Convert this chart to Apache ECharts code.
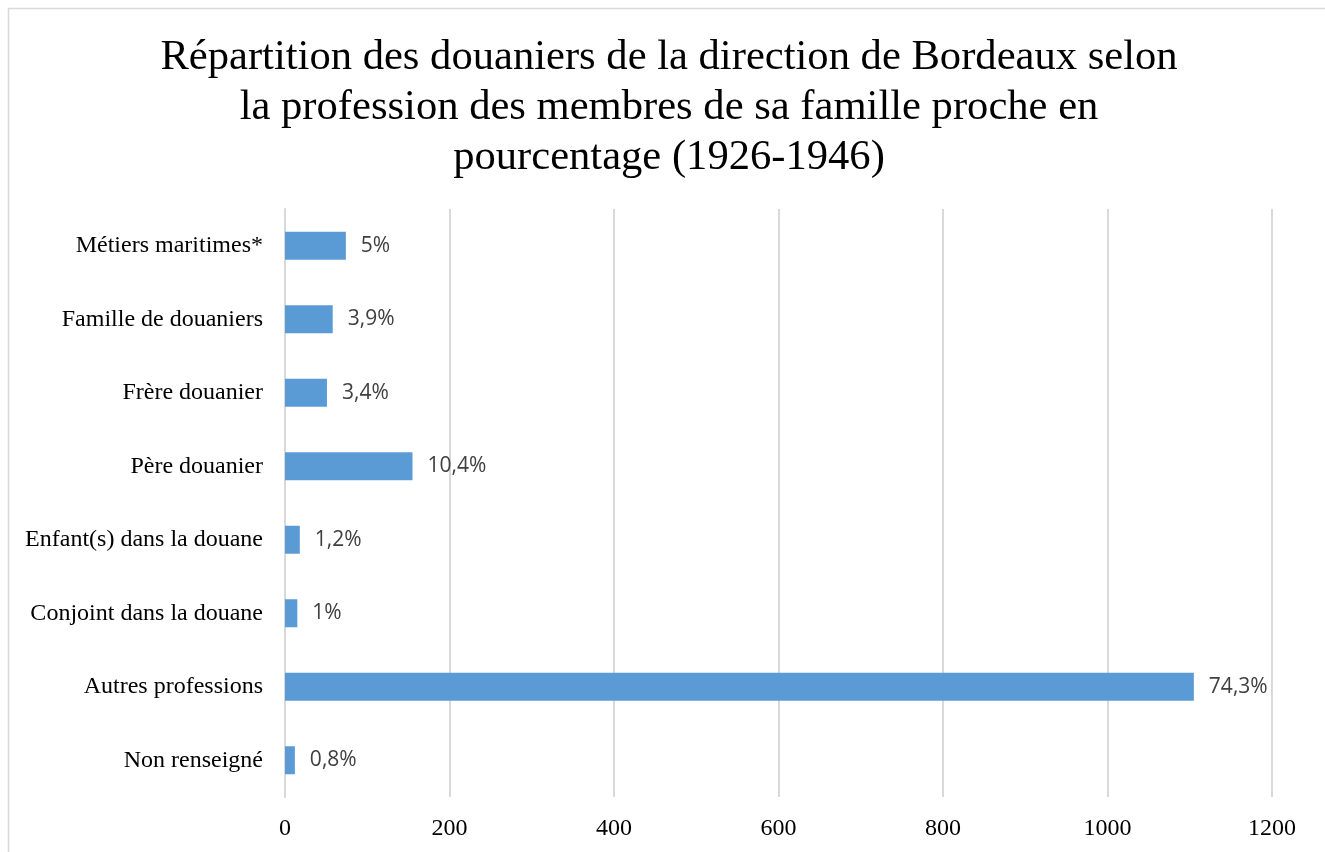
<!DOCTYPE html>
<html>
<head>
<meta charset="utf-8">
<script src="https://cdn.jsdelivr.net/npm/echarts@6/dist/echarts.min.js"></script>
<style>
  html, body { margin: 0; padding: 0; background: #fff; }
  #chart { width: 1325px; height: 852px; }
</style>
</head>
<body>
<div id="chart"></div>
<script>
// categories, top to bottom as in the picture
const categories = [
  'Métiers maritimes*',
  'Famille de douaniers',
  'Frère douanier',
  'Père douanier',
  'Enfant(s) dans la douane',
  'Conjoint dans la douane',
  'Autres professions',
  'Non renseigné'
];
// number of douaniers
const counts = [74, 58, 51, 155, 18, 15, 1105, 12];
// percentages shown next to bars
const percentLabels = ['5%', '3,9%', '3,4%', '10,4%', '1,2%', '1%', '74,3%', '0,8%'];
const xTicks = [0, 200, 400, 600, 800, 1000, 1200];

const serif = '"Liberation Serif", "Times New Roman", serif';

const chart = echarts.init(document.getElementById('chart'));

const option = {
  animation: false,
  backgroundColor: '#fff',
  graphic: [{
    type: 'rect',
    left: 6,
    top: 6,
    shape: { width: 1320, height: 860 },
    style: { fill: 'none', stroke: '#d9d9d9', lineWidth: 1.5 },
    silent: true
  }],
  title: {
    text: 'Répartition des douaniers de la direction de Bordeaux selon\nla profession des membres de sa famille proche en\npourcentage (1926-1946)',
    left: 664,
    top: 28,
    textAlign: 'center',
    textStyle: {
      fontFamily: serif,
      fontSize: 42.6,
      fontWeight: 'normal',
      color: '#000',
      lineHeight: 50,
      align: 'center'
    }
  },
  grid: {
    left: 285,
    right: 53,
    top: 209,
    bottom: 55,
    containLabel: false
  },
  xAxis: {
    type: 'value',
    min: xTicks[0],
    max: xTicks[xTicks.length - 1],
    interval: 200,
    axisLine: { show: false },
    axisTick: { show: false },
    splitLine: { lineStyle: { color: '#d9d9d9', width: 2 } },
    axisLabel: {
      fontFamily: serif,
      fontSize: 24,
      color: '#000',
      margin: 20,
      formatter: v => String(v)
    }
  },
  yAxis: {
    type: 'category',
    inverse: true,
    data: categories,
    axisLine: { show: true, lineStyle: { color: '#d9d9d9', width: 2 } },
    axisTick: { show: false },
    axisLabel: {
      fontFamily: serif,
      fontSize: 24,
      color: '#000',
      margin: 22
    }
  },
  series: [{
    type: 'bar',
    data: counts,
    barWidth: 28,
    itemStyle: { color: '#5b9bd5' },
    label: {
      show: true,
      position: 'right',
      distance: 15,
      fontFamily: '"Open Sans", "Noto Sans", sans-serif',
      fontSize: 21,
      color: '#404040',
      formatter: p => percentLabels[p.dataIndex]
    }
  }]
};

chart.setOption(option);
</script>
</body>
</html>
